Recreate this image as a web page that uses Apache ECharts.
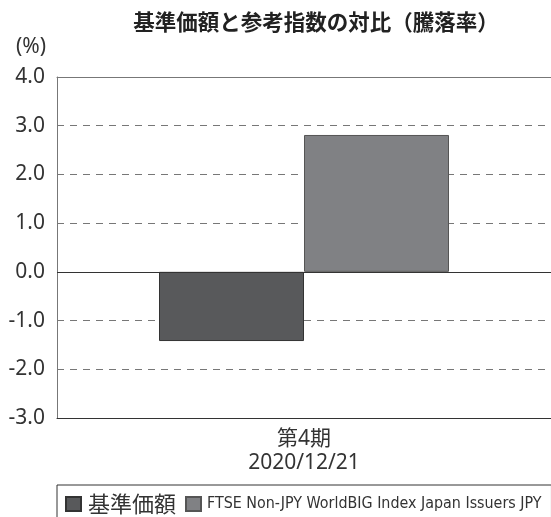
<!DOCTYPE html>
<html><head><meta charset="utf-8">
<script src="https://cdn.jsdelivr.net/npm/echarts@6/dist/echarts.min.js"></script>
<style>html,body{margin:0;padding:0;background:#fff}#c{width:551px;height:517px}</style>
</head><body><div id="c"></div>
<script>
var categories = ['第4期\n2020/12/21'];
var seriesNames = ['基準価額', 'FTSE Non-JPY WorldBIG Index Japan Issuers JPY'];
var fundValues = [-1.42];
var indexValues = [2.81];
var yTicks = [-3, -2, -1, 0, 1, 2, 3, 4];

var chart = echarts.init(document.getElementById('c'), null, {renderer: 'canvas'});
var ff = '"Noto Sans", "Noto Sans CJK JP", sans-serif';
chart.setOption({
  animation: false,
  title: {
    text: '基準価額と参考指数の対比（騰落率）',
    left: 311, top: 6, textAlign: 'center',
    textStyle: {fontSize: 21.5, fontWeight: 'bold', color: '#222', fontFamily: '"Noto Sans CJK JP", sans-serif'}
  },
  legend: {
    left: 57, top: 485, width: 540, orient: 'horizontal',
    data: seriesNames,
    icon: 'rect', itemWidth: 15, itemHeight: 14, itemGap: 9,
    borderColor: '#333', borderWidth: 1,
    padding: [8, 10, 30, 8],
    formatter: function (name) {
      return name === seriesNames[0] ? '{cjk|' + name + '}' : '{lat|' + name + '}';
    },
    textStyle: {
      color: '#333',
      rich: {
        cjk: {fontSize: 22, color: '#333', fontFamily: '"Noto Sans CJK JP", sans-serif', padding: [0, 0, 0, 2]},
        lat: {fontSize: 15.9, color: '#333', fontFamily: '"Liberation Sans Narrow", "DejaVu Sans Condensed", sans-serif', padding: [0, 0, 0, 1]}
      }
    }
  },
  grid: {left: 57, width: 498, top: 77, bottom: 99, containLabel: false},
  xAxis: [{
    type: 'category', data: categories, position: 'bottom',
    axisLine: {onZero: false, lineStyle: {color: '#333', width: 1}},
    axisTick: {show: false},
    axisLabel: {fontSize: 21, color: '#333', lineHeight: 24, margin: 9, fontFamily: ff}
  }, {
    type: 'category', data: categories, position: 'top',
    axisLine: {show: true, onZero: false, lineStyle: {color: '#777', width: 1}},
    axisTick: {show: false}, axisLabel: {show: false}
  }],
  yAxis: {
    type: 'value', min: -3, max: 4, interval: 1,
    name: '(%)', nameLocation: 'end', nameGap: 19,
    nameTextStyle: {fontSize: 21, color: '#333', align: 'right', padding: [0, 11, 0, 0], fontFamily: ff},
    axisLine: {show: true, lineStyle: {color: '#777', width: 1}},
    axisTick: {show: false},
    axisLabel: {fontSize: 21, color: '#333', margin: 12, fontFamily: ff,
      formatter: function (v) { return v.toFixed(1); }},
    splitLine: {show: true, lineStyle: {color: '#777', type: [7, 6], width: 1}}
  },
  series: [{
    name: seriesNames[0], type: 'bar', data: fundValues,
    barWidth: 145, barGap: '0%',
    itemStyle: {color: '#58595b', borderColor: '#333', borderWidth: 1},
    markLine: {
      silent: true, symbol: 'none', label: {show: false},
      lineStyle: {color: '#333', type: 'solid', width: 1},
      data: [{yAxis: 0}]
    }
  }, {
    name: seriesNames[1], type: 'bar', data: indexValues,
    barWidth: 145,
    itemStyle: {color: '#808184', borderColor: '#555', borderWidth: 1}
  }]
});
</script></body></html>
